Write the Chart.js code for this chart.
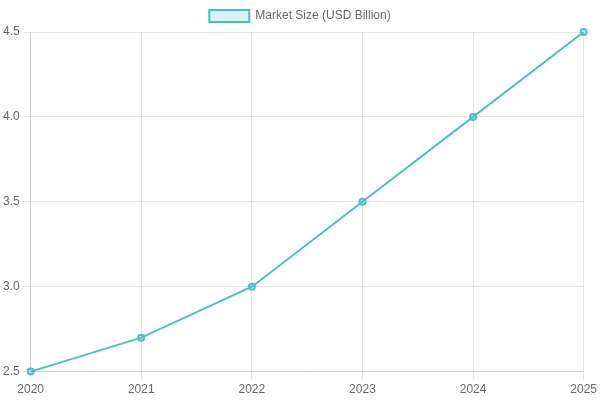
<!DOCTYPE html>
<html>
<head>
<meta charset="utf-8">
<script src="https://cdn.jsdelivr.net/npm/chart.js@4"></script>
<style>
  body { margin: 0; }
  #wrap { width: 600px; height: 400px; }
</style>
</head>
<body>
<div id="wrap"><canvas id="lineChart"></canvas></div>
<script>
const years = ['2020', '2021', '2022', '2023', '2024', '2025'];
const marketSize = [2.5, 2.7, 3.0, 3.5, 4.0, 4.5];

const ctx = document.getElementById('lineChart').getContext('2d');
const lineChart = new Chart(ctx, {
    type: 'line',
    data: {
        labels: years,
        datasets: [{
            label: 'Market Size (USD Billion)',
            data: marketSize,
            borderColor: 'rgb(75, 192, 192)',
            backgroundColor: 'rgba(75, 192, 192, 0.2)',
            borderWidth: 2,
            pointRadius: 3,
            fill: false,
            tension: 0,
        }],
    },
    options: {
        responsive: true,
        maintainAspectRatio: false,
        animation: false,
        scales: {
            y: {
                beginAtZero: false,
                ticks: { stepSize: 0.5 },
            },
        },
    },
});
</script>
</body>
</html>
